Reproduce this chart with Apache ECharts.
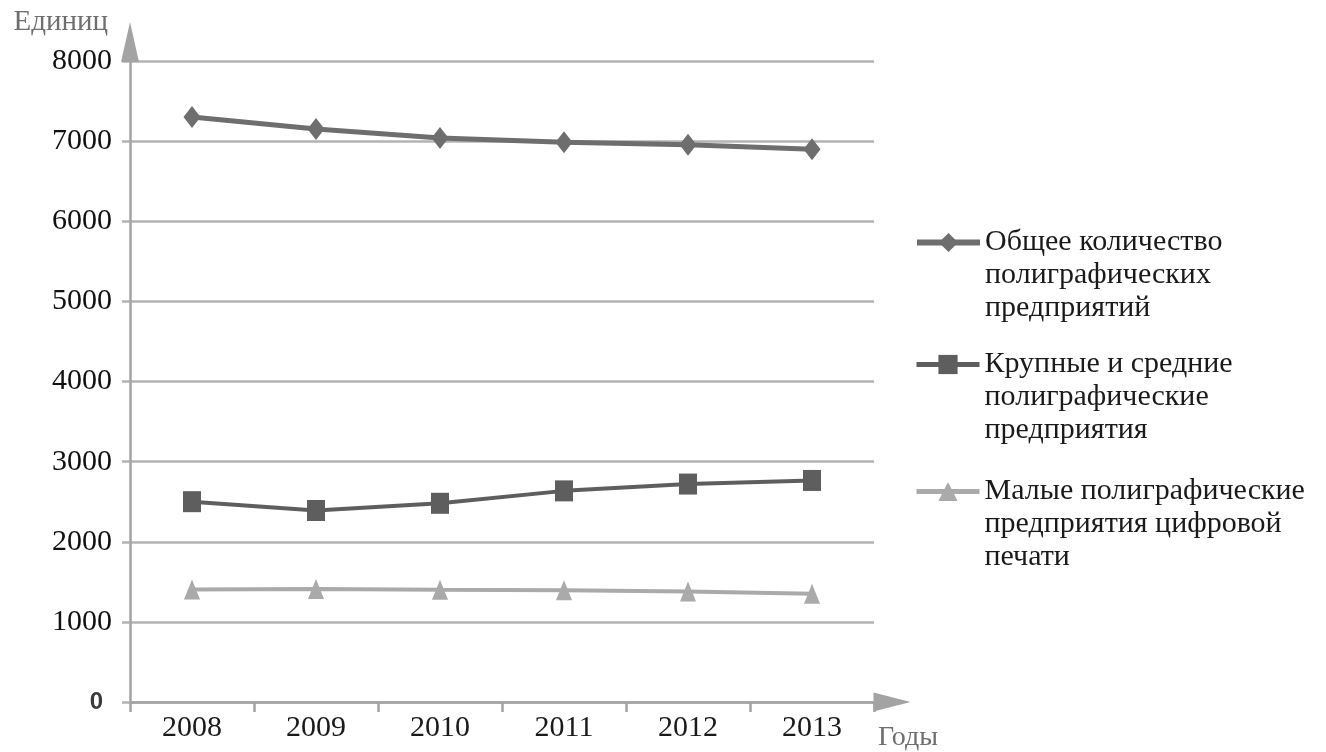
<!DOCTYPE html>
<html>
<head>
<meta charset="utf-8">
<script src="https://cdn.jsdelivr.net/npm/echarts@6/dist/echarts.min.js"></script>
<style>
  html, body { margin: 0; padding: 0; background: #ffffff; }
  #chart { width: 1326px; height: 752px; }
</style>
</head>
<body>
<div id="chart"></div>
<script>
// Years on the horizontal axis
const years = ['2008', '2009', '2010', '2011', '2012', '2013'];

// Number of printing enterprises, units
const totalPrinting = [7300, 7150, 7040, 6985, 6955, 6900];
const largeMedium = [2500, 2390, 2480, 2635, 2720, 2765];
const smallDigital = [1405, 1410, 1400, 1395, 1380, 1350];

const seriesNames = [
  'Общее количество\nполиграфических\nпредприятий',
  'Крупные и средние\nполиграфические\nпредприятия',
  'Малые полиграфические\nпредприятия цифровой\nпечати'
];

// Value axis range and step
const yMin = 0;
const yMax = 8000;
const yStep = 1000;

const axisGray = '#a3a3a3';
const gridGray = '#b3b3b3';
const serif = 'Liberation Serif';

const seriesColors = ['#6e6e6e', '#5e5e5e', '#aaaaaa'];
const seriesSymbols = ['diamond', 'rect', 'triangle'];
const seriesSymbolSizes = [[17, 22], [18, 21], [16, 20]];
const seriesLineWidths = [5, 4, 4];
const legendLineWidths = [6, 5, 5];
const seriesData = [totalPrinting, largeMedium, smallDigital];

// Vertical placement of each legend entry (icon aligned with first text line)
const legendTops = [160, 282, 409];

const chart = echarts.init(document.getElementById('chart'), null, { renderer: 'canvas' });

const option = {
  backgroundColor: '#ffffff',
  animation: false,
  grid: { left: 130, top: 61, right: 452, bottom: 50, containLabel: false },
  legend: seriesNames.map((n, i) => ({
    data: [n],
    orient: 'vertical',
    left: 914,
    top: legendTops[i],
    padding: 0,
    itemWidth: 63,
    itemHeight: 24,
    itemGap: 0,
    selectedMode: false,
    lineStyle: { width: legendLineWidths[i] },
    textStyle: { fontFamily: serif, fontSize: 30, lineHeight: 33, color: '#1a1a1a' },
    formatter: name => '\n\n' + name
  })),
  xAxis: {
    type: 'category',
    data: years,
    boundaryGap: true,
    axisLine: {
      show: true,
      lineStyle: { color: axisGray, width: 2.5 },
      symbol: ['none', 'triangle'],
      symbolSize: [19, 37],
      symbolOffset: [0, 18]
    },
    axisTick: { show: true, length: 10, lineStyle: { color: axisGray, width: 2.5 } },
    axisLabel: { margin: 11, fontFamily: serif, fontSize: 30, color: '#1a1a1a' },
    splitLine: { show: false },
    name: 'Годы',
    nameLocation: 'end',
    nameGap: 4,
    nameTextStyle: {
      fontFamily: serif, fontSize: 28, color: '#6e6e6e',
      verticalAlign: 'top', padding: [22, 0, 0, 0]
    }
  },
  yAxis: {
    type: 'value',
    min: yMin,
    max: yMax,
    interval: yStep,
    axisLine: {
      show: true,
      lineStyle: { color: axisGray, width: 2.5 },
      symbol: ['none', 'triangle'],
      symbolSize: [18, 40],
      symbolOffset: [0, 19]
    },
    axisTick: { show: true, length: 8, lineStyle: { color: gridGray, width: 2.5 } },
    splitLine: { show: true, lineStyle: { color: gridGray, width: 2.5 } },
    axisLabel: {
      margin: 18,
      fontFamily: serif,
      fontSize: 30,
      color: '#111111',
      formatter: v => (v === 0 ? '{z|0}' : String(v)),
      rich: {
        z: { fontFamily: 'Liberation Sans', fontWeight: 'bold', fontSize: 24, color: '#3a3a3a', padding: [0, 9, 0, 0] }
      }
    },
    name: 'Единиц',
    nameLocation: 'end',
    nameGap: 39,
    nameTextStyle: {
      fontFamily: serif, fontSize: 29, color: '#6e6e6e',
      align: 'right', verticalAlign: 'middle', padding: [0, 22, 0, 0]
    }
  },
  series: seriesNames.map((n, i) => ({
    name: n,
    type: 'line',
    data: seriesData[i],
    symbol: seriesSymbols[i],
    symbolSize: seriesSymbolSizes[i],
    showAllSymbol: true,
    lineStyle: { color: seriesColors[i], width: seriesLineWidths[i] },
    itemStyle: { color: seriesColors[i], borderWidth: 0 },
    emphasis: { disabled: true }
  }))
};

chart.setOption(option);
</script>
</body>
</html>
